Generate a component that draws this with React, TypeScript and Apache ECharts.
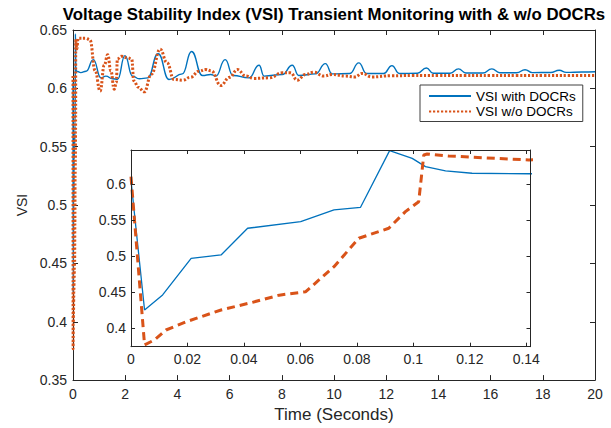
import React, { useEffect, useRef } from 'react';
import * as echarts from 'echarts';

// ---- data (time in seconds, VSI values) ----
const tWith = [
  0, 0.0048, 0.0112, 0.0213, 0.0319, 0.0413, 0.0601, 0.0719, 0.0813, 0.0916, 0.0996, 0.1043, 0.1114, 0.1208, 0.1409,
  0.3, 0.5, 0.78, 1.07, 1.26, 1.52, 1.71, 1.99, 2.28, 2.54, 2.86, 3.26, 3.68, 4.19, 4.54, 4.96, 5.28, 5.47, 5.83,
  6.13, 6.74, 7.13, 7.32, 8.02, 8.4, 8.65, 9.29, 9.67, 9.93, 10.6, 10.95, 11.25, 11.9, 12.22, 12.5, 13.2, 13.54,
  13.8, 14.45, 14.77, 15.05, 15.7, 16.05, 16.35, 17.0, 17.32, 17.6, 18.3, 18.63, 18.9, 19.5, 20,
];
const vWith = [
  0.605, 0.4254, 0.4463, 0.4972, 0.5018, 0.5389, 0.548, 0.5643, 0.568, 0.6467, 0.636, 0.6245, 0.6185, 0.6153, 0.6146,
  0.6135, 0.6147, 0.6246, 0.609, 0.6105, 0.6082, 0.6078, 0.628, 0.6105, 0.6082, 0.609, 0.6297, 0.6076, 0.6124, 0.6316, 0.611, 0.6119, 0.6105, 0.6246,
  0.611, 0.609, 0.6198, 0.6105, 0.6119, 0.6198, 0.611, 0.6124, 0.6212, 0.6124, 0.6127, 0.6218, 0.6127, 0.6127, 0.6195, 0.6127, 0.613, 0.6175,
  0.613, 0.613, 0.6167, 0.6132, 0.6132, 0.6167, 0.6134, 0.6134, 0.616, 0.6135, 0.6136, 0.6155, 0.6137, 0.614, 0.6142,
];
const tWithout = [
  0, 0.0048, 0.0083, 0.0124, 0.0195, 0.0319, 0.043, 0.0525, 0.0619, 0.0719, 0.0807, 0.0913, 0.0972, 0.1019, 0.1037, 0.1049, 0.1125, 0.1409,
  0.2, 0.5, 0.65, 0.85, 1.04, 1.2, 1.33, 1.45, 1.58, 1.66, 1.7, 1.85, 2.1, 2.25, 2.33, 2.5, 2.73, 3.0, 3.34, 3.6, 3.87,
  4.2, 4.5, 4.83, 5.09, 5.3, 5.66, 6.0, 6.3, 6.62, 6.93, 7.51, 8.02, 8.34, 8.59, 8.91, 9.23, 9.61, 9.93, 10.44, 10.8, 11.08, 11.45, 12.2,
  13, 14, 15, 16, 17, 18, 19, 20,
];
const vWithout = [
  0.6106, 0.3768, 0.3838, 0.3976, 0.409, 0.4254, 0.436, 0.446, 0.4508, 0.4856, 0.525, 0.5389, 0.562, 0.5758, 0.6407, 0.642, 0.6393, 0.6337,
  0.643, 0.643, 0.6415, 0.615, 0.5977, 0.62, 0.6288, 0.615, 0.5992, 0.605, 0.625, 0.6275, 0.6262, 0.625, 0.6065, 0.601, 0.597, 0.612, 0.6336, 0.622, 0.6076,
  0.607, 0.6095, 0.6147, 0.6161, 0.615, 0.6025, 0.6095, 0.6161, 0.6105, 0.6085, 0.609, 0.6133, 0.6133, 0.607, 0.6119, 0.6138, 0.6105, 0.6119, 0.6105, 0.6098, 0.6128, 0.6098, 0.6108,
  0.611, 0.611, 0.611, 0.611, 0.611, 0.611, 0.611, 0.611,
];

const TITLE = 'Voltage Stability Index (VSI) Transient Monitoring with & w/o DOCRs';
const NAME_WITH = 'VSI with DOCRs';
const NAME_WITHOUT = 'VSI w/o DOCRs';
const X_NAME = 'Time (Seconds)';
const Y_NAME = 'VSI';

const BLUE = '#0072BD';
const ORANGE = '#D95319';
const INK = '#262626';
const FONT = '"Liberation Sans", Arial, Helvetica, sans-serif';
const FS = 14;

const pairs = (t: number[], v: number[]) => t.map((x, i) => [x, v[i]]);
const fmt = (step: number) => (val: number) => {
  const k = val / step;
  return Math.abs(k - Math.round(k)) < 1e-6 ? String(+val.toFixed(3)) : '';
};

function axisBase(extra: any) {
  return {
    type: 'value',
    axisLine: { show: true, onZero: false, lineStyle: { color: INK, width: 1 } },
    axisTick: { show: true, inside: true, length: 5, lineStyle: { color: INK, width: 1 } },
    splitLine: { show: false },
    ...extra,
  };
}

export default function App() {
  const ref = useRef<HTMLDivElement>(null);
  useEffect(() => {
    if (!ref.current) return;
    const chart = echarts.init(ref.current, null, { renderer: 'svg' });
    const labelStyle = { color: INK, fontSize: FS, fontFamily: FONT };
    const insetTick = { show: true, inside: true, length: 4, lineStyle: { color: INK, width: 1 } };
    const option: any = {
      animation: false,
      backgroundColor: '#fff',
      graphic: [
        {
          type: 'text',
          x: 334,
          y: 14,
          style: {
            text: TITLE,
            textAlign: 'center',
            textVerticalAlign: 'middle',
            fontSize: 16.8,
            fontWeight: 'bold',
            fontFamily: FONT,
            fill: '#000',
          },
        },
      ],
      grid: [
        { left: 73, right: 16, top: 30, bottom: 44.5, show: false },
        { left: 131, right: 80.5, top: 150, bottom: 81.3, show: true, backgroundColor: '#fff', borderWidth: 0 },
      ],
      legend: {
        data: [NAME_WITH, NAME_WITHOUT],
        orient: 'vertical',
        left: 420,
        top: 85,
        backgroundColor: '#fff',
        borderColor: '#404040',
        borderWidth: 1,
        padding: [4, 7, 3, 8],
        itemGap: 1.5,
        itemWidth: 42,
        itemHeight: 11,
        itemStyle: { opacity: 0 },
        textStyle: { fontSize: 13.5, color: '#000', fontFamily: FONT },
        z: 10,
      },
      xAxis: [
        axisBase({
          gridIndex: 0, min: 0, max: 20, interval: 2, position: 'bottom',
          axisLabel: { ...labelStyle, margin: 7, formatter: fmt(2) },
          name: X_NAME, nameLocation: 'middle', nameGap: 22,
          nameTextStyle: { color: INK, fontSize: 17, fontFamily: FONT },
        }),
        axisBase({ gridIndex: 0, min: 0, max: 20, interval: 2, position: 'top', axisLabel: { show: false } }),
        axisBase({
          gridIndex: 1, min: 0, max: 0.1415, interval: 0.02, position: 'bottom', z: 8,
          axisTick: insetTick,
          axisLabel: { ...labelStyle, margin: 5, formatter: fmt(0.02) },
        }),
        axisBase({
          gridIndex: 1, min: 0, max: 0.1415, interval: 0.02, position: 'top', z: 8,
          axisTick: insetTick,
          axisLabel: { show: false },
        }),
      ],
      yAxis: [
        axisBase({
          gridIndex: 0, min: 0.35, max: 0.65, interval: 0.05, position: 'left',
          axisLabel: { ...labelStyle, margin: 6, formatter: fmt(0.05) },
          name: Y_NAME, nameLocation: 'middle', nameGap: 40, nameRotate: 90,
          nameTextStyle: { color: INK, fontSize: 14, fontFamily: FONT },
        }),
        axisBase({ gridIndex: 0, min: 0.35, max: 0.65, interval: 0.05, position: 'right', axisLabel: { show: false } }),
        axisBase({
          gridIndex: 1, min: 0.3744, max: 0.6476, position: 'left', z: 8,
          axisTick: insetTick,
          axisLabel: { ...labelStyle, margin: 5, formatter: fmt(0.05) },
        }),
        axisBase({
          gridIndex: 1, min: 0.3744, max: 0.6476, position: 'right', z: 8,
          axisTick: insetTick,
          axisLabel: { show: false },
        }),
      ],
      series: [
        {
          name: NAME_WITH, type: 'line', xAxisIndex: 0, yAxisIndex: 0,
          data: pairs(tWith, vWith), symbol: 'none', smooth: 0.5, smoothMonotone: 'x',
          lineStyle: { color: BLUE, width: 1.4 }, itemStyle: { color: BLUE }, z: 3, clip: true,
        },
        {
          name: NAME_WITHOUT, type: 'line', xAxisIndex: 0, yAxisIndex: 0,
          data: pairs(tWithout, vWithout), symbol: 'none', smooth: 0.45, smoothMonotone: 'x',
          lineStyle: { color: ORANGE, width: 3, type: [2.2, 1.8] }, itemStyle: { color: ORANGE }, z: 3, clip: true,
        },
        {
          name: 'inset-with', type: 'line', xAxisIndex: 2, yAxisIndex: 2,
          data: pairs(tWith, vWith), symbol: 'none',
          lineStyle: { color: BLUE, width: 1.3 }, z: 6, clip: true,
        },
        {
          name: 'inset-without', type: 'line', xAxisIndex: 2, yAxisIndex: 2,
          data: pairs(tWithout, vWithout), symbol: 'none',
          lineStyle: { color: ORANGE, width: 3, type: [8, 5] }, z: 6, clip: true,
        },
      ],
    };
    chart.setOption(option);
    return () => chart.dispose();
  }, []);
  return <div ref={ref} style={{ position: 'absolute', left: 0, top: 0, width: 611, height: 428 }} />;
}
